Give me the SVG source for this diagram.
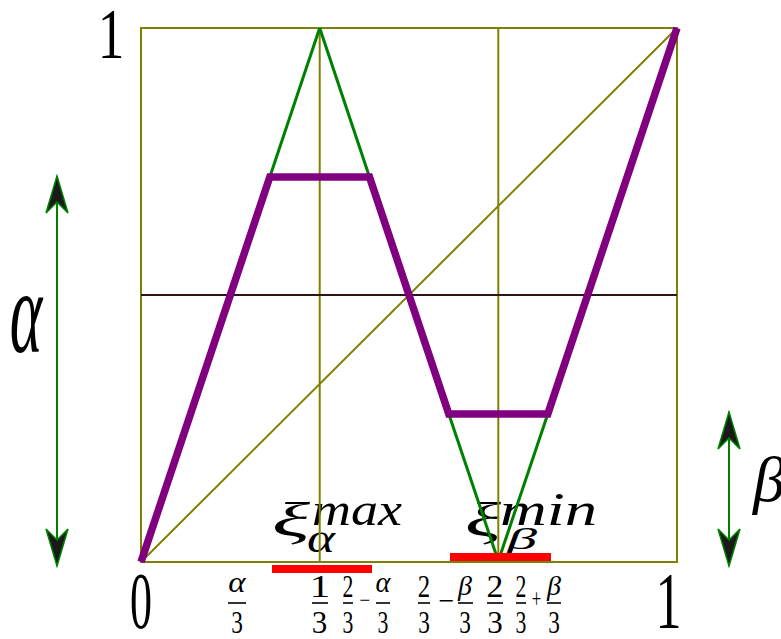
<svg xmlns="http://www.w3.org/2000/svg" width="781" height="639" viewBox="0 0 781 639">
<style>
.t{font-family:"Liberation Serif","DejaVu Serif",serif;fill:#000}
.i{font-style:italic}
.g{stroke:#808000;stroke-width:2;fill:none}
.gr{stroke:#008000;stroke-width:3;fill:none}
.fb{stroke:#000;stroke-width:1.6}
</style>
<defs>
<marker id="ah" viewBox="-40 -13 42 26" refX="0" refY="0" markerWidth="42" markerHeight="26" markerUnits="userSpaceOnUse" orient="auto-start-reverse">
<path d="M0,0 L-37,-11 L-26,0 L-37,11 Z" fill="#1a1a1a" stroke="#008000" stroke-width="1.5"/>
</marker>
</defs>
<rect width="781" height="639" fill="#fff"/>
<g id="xi-labels">
<g id="xi-max">
<text class="t i" x="272" y="536" font-size="48" textLength="38" lengthAdjust="spacingAndGlyphs">ξ</text>
<text class="t i" x="312" y="525" font-size="46" textLength="90" lengthAdjust="spacingAndGlyphs">max</text>
<text class="t i" x="307" y="552" font-size="40" textLength="28" lengthAdjust="spacingAndGlyphs">α</text>
</g>
<g id="xi-min">
<text class="t i" x="465" y="536" font-size="48" textLength="36" lengthAdjust="spacingAndGlyphs">ξ</text>
<text class="t i" x="500" y="525" font-size="46" textLength="97" lengthAdjust="spacingAndGlyphs">min</text>
<text class="t i" x="507" y="549" font-size="30" textLength="30" lengthAdjust="spacingAndGlyphs">β</text>
</g>
</g>
<g id="frame">
<rect class="g" x="141" y="28" width="536" height="534"/>
<line class="g" x1="319.7" y1="28" x2="319.7" y2="562"/>
<line class="g" x1="498.3" y1="28" x2="498.3" y2="562"/>
<line class="g" x1="141" y1="562" x2="677" y2="28"/>
<line x1="141" y1="295" x2="677" y2="295" stroke="#2e1414" stroke-width="2"/>
</g>
<g id="connectors">
<line class="gr" x1="269.8" y1="177" x2="319.7" y2="28"/>
<line class="gr" x1="369.5" y1="177" x2="319.7" y2="28"/>
<line class="gr" x1="448.8" y1="414" x2="498.3" y2="561"/>
<line class="gr" x1="547.8" y1="414" x2="498.3" y2="561"/>
<path id="curve" d="M141,562 L269.8,177 L369.5,177 L448.8,414 L547.8,414 L677,28" fill="none" stroke="#800080" stroke-width="7.5" stroke-linejoin="miter"/>
<rect id="bar-max" x="272" y="565" width="100" height="8" fill="#ff0000"/>
<rect id="bar-min" x="450" y="553" width="101" height="8" fill="#ff0000"/>
<line id="arrow-alpha" x1="57" y1="176" x2="57" y2="566" stroke="#008000" stroke-width="2" marker-start="url(#ah)" marker-end="url(#ah)"/>
<line id="arrow-beta" x1="729" y1="412" x2="729" y2="566" stroke="#008000" stroke-width="2" marker-start="url(#ah)" marker-end="url(#ah)"/>
</g>
<g id="alpha-label"><text class="t i" text-anchor="middle" font-size="62" transform="translate(26,352) scale(1,1.9)">α</text></g>
<g id="beta-label"><text class="t i" font-size="64" transform="translate(753,501)">β</text></g>
<g id="one-top"><text class="t" text-anchor="middle" font-size="71" transform="translate(111,58) scale(0.75,1)">1</text></g>
<g id="zero"><text class="t" text-anchor="middle" font-size="80" transform="translate(141,628) scale(0.55,1)">0</text></g>
<g id="one-bottom"><text class="t" text-anchor="middle" font-size="80" transform="translate(668.5,628) scale(0.65,1)">1</text></g>
<g id="ticks">
<g id="f-a3">
<text class="t i" text-anchor="middle" font-size="30" transform="translate(237,592) scale(1.1,1)">α</text>
<line class="fb" x1="228" y1="603" x2="246" y2="603"/>
<text class="t" text-anchor="middle" font-size="31" transform="translate(237,633) scale(0.75,1)">3</text>
</g>
<g id="f-13">
<text class="t" text-anchor="middle" font-size="32" transform="translate(320,597) scale(1.3,1)">1</text>
<line class="fb" x1="312" y1="603" x2="328" y2="603"/>
<text class="t" text-anchor="middle" font-size="31" transform="translate(319.5,633) scale(1,1)">3</text>
</g>
<g id="f-23-a3">
<text class="t" text-anchor="middle" font-size="31" transform="translate(348,597) scale(0.7,1)">2</text>
<line class="fb" x1="343" y1="603" x2="353" y2="603"/>
<text class="t" text-anchor="middle" font-size="31" transform="translate(348,633) scale(0.7,1)">3</text>
<text class="t" text-anchor="middle" font-size="24" transform="translate(365,608) scale(0.8,1)">−</text>
<text class="t i" text-anchor="middle" font-size="30" transform="translate(383,592) scale(0.95,1)">α</text>
<line class="fb" x1="376" y1="603" x2="390" y2="603"/>
<text class="t" text-anchor="middle" font-size="31" transform="translate(383,633) scale(0.7,1)">3</text>
</g>
<g id="f-23-b3">
<text class="t" text-anchor="middle" font-size="31" transform="translate(424,597) scale(0.8,1)">2</text>
<line class="fb" x1="418" y1="603" x2="430" y2="603"/>
<text class="t" text-anchor="middle" font-size="31" transform="translate(424,633) scale(0.75,1)">3</text>
<text class="t" text-anchor="middle" font-size="28" transform="translate(446.5,610) scale(1,1)">−</text>
<text class="t i" text-anchor="middle" font-size="28" transform="translate(465,595) scale(1,1)">β</text>
<line class="fb" x1="458" y1="603" x2="473" y2="603"/>
<text class="t" text-anchor="middle" font-size="31" transform="translate(465,633) scale(0.75,1)">3</text>
</g>
<g id="f-23">
<text class="t" text-anchor="middle" font-size="32" transform="translate(495,597) scale(1.05,1)">2</text>
<line class="fb" x1="487" y1="603" x2="503" y2="603"/>
<text class="t" text-anchor="middle" font-size="31" transform="translate(495,633) scale(1,1)">3</text>
</g>
<g id="f-23-p-b3">
<text class="t" text-anchor="middle" font-size="31" transform="translate(521,597) scale(0.7,1)">2</text>
<line class="fb" x1="516" y1="603" x2="526" y2="603"/>
<text class="t" text-anchor="middle" font-size="31" transform="translate(521,633) scale(0.7,1)">3</text>
<text class="t" text-anchor="middle" font-size="28" transform="translate(536.5,608) scale(0.6,1)">+</text>
<text class="t i" text-anchor="middle" font-size="28" transform="translate(554,595) scale(1,1)">β</text>
<line class="fb" x1="547" y1="603" x2="561" y2="603"/>
<text class="t" text-anchor="middle" font-size="31" transform="translate(554,633) scale(0.75,1)">3</text>
</g>
</g>
</svg>
